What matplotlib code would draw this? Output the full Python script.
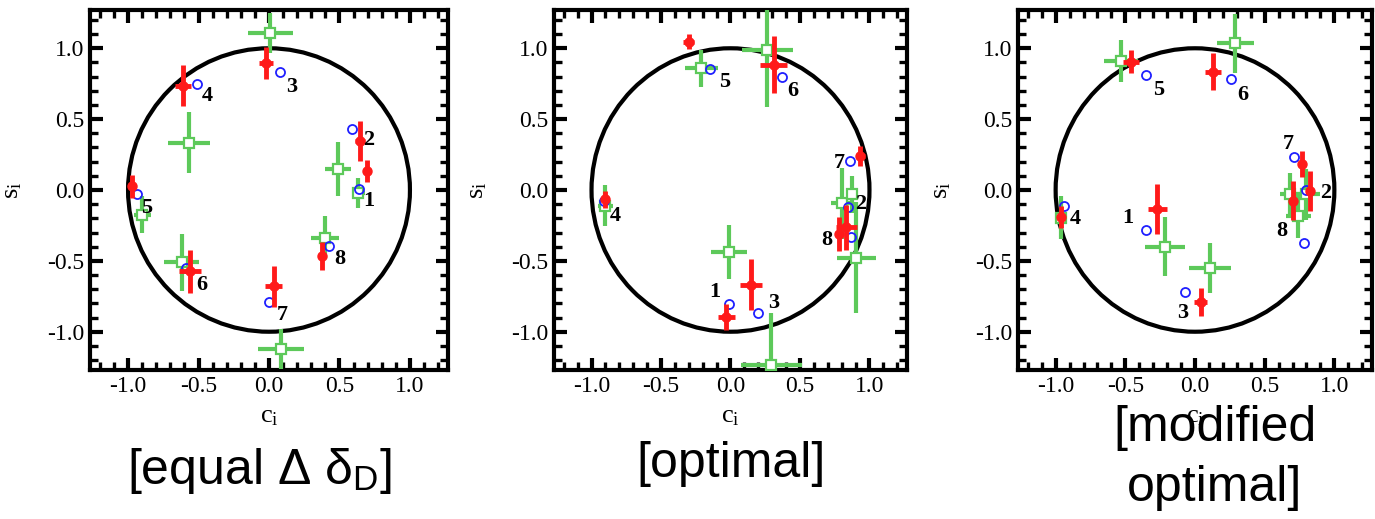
import numpy as np
import matplotlib
matplotlib.use("Agg")
import matplotlib.pyplot as plt
from matplotlib.patches import Circle
from matplotlib.ticker import MultipleLocator, FormatStrFormatter

plt.rcParams['font.family'] = ['Liberation Serif', 'DejaVu Serif']
plt.rcParams['axes.unicode_minus'] = False
plt.rcParams['mathtext.fontset'] = 'custom'
plt.rcParams['mathtext.rm'] = 'Liberation Serif'
plt.rcParams['mathtext.it'] = 'Liberation Serif:italic'
plt.rcParams['mathtext.sf'] = 'Liberation Sans'

# ------------------------------------------------------------
# data: (c_i, s_i) per bin, three binning schemes
# ------------------------------------------------------------
bins = ['1', '2', '3', '4', '5', '6', '7', '8']

# [equal delta]
eq_pred_c = [0.638, 0.59, 0.08, -0.51, -0.94, -0.59, 0.0, 0.425]
eq_pred_s = [0.005, 0.427, 0.835, 0.75, -0.03, -0.55, -0.79, -0.394]
eq_lab_c = [0.71, 0.71, 0.16, -0.44, -0.87, -0.48, 0.095, 0.50]
eq_lab_s = [-0.08, 0.35, 0.73, 0.66, -0.13, -0.67, -0.88, -0.49]
eq_red_c = [0.693, 0.645, -0.02, -0.61, -0.97, -0.56, 0.035, 0.378]
eq_red_s = [0.136, 0.347, 0.895, 0.735, 0.025, -0.575, -0.68, -0.465]
eq_red_ce = [0.02, 0.035, 0.05, 0.055, 0.02, 0.075, 0.06, 0.02]
eq_red_se = [0.077, 0.14, 0.115, 0.145, 0.08, 0.15, 0.145, 0.1]
eq_grn_c = [0.633, 0.49, 0.01, -0.57, -0.90, -0.62, 0.085, 0.40]
eq_grn_s = [-0.02, 0.146, 1.11, 0.335, -0.175, -0.51, -1.12, -0.336]
eq_grn_ce = [0.047, 0.095, 0.16, 0.15, 0.06, 0.125, 0.165, 0.1]
eq_grn_se = [0.105, 0.19, 0.14, 0.215, 0.13, 0.2, 0.14, 0.15]

# [optimal]
op_pred_c = [-0.01, 0.846, 0.195, -0.91, -0.15, 0.37, 0.863, 0.865]
op_pred_s = [-0.805, -0.118, -0.865, -0.08, 0.855, 0.795, 0.206, -0.33]
op_lab_c = [-0.11, 0.94, 0.31, -0.83, -0.04, 0.45, 0.78, 0.69]
op_lab_s = [-0.72, -0.10, -0.80, -0.18, 0.765, 0.695, 0.19, -0.35]
op_red_c = [-0.30, 0.31, 0.935, -0.90, 0.834, 0.78, 0.145, -0.03]
op_red_s = [1.047, 0.885, 0.24, -0.065, -0.263, -0.312, -0.67, -0.895]
op_red_ce = [0.04, 0.1, 0.03, 0.02, 0.075, 0.03, 0.08, 0.06]
op_red_se = [0.055, 0.2, 0.07, 0.06, 0.16, 0.12, 0.18, 0.09]
op_grn_c = [0.265, -0.21, -0.90, 0.80, 0.875, 0.905, -0.01, 0.295]
op_grn_s = [0.986, 0.86, -0.11, -0.094, -0.03, -0.477, -0.435, -1.235]
op_grn_ce = [0.185, 0.12, 0.055, 0.08, 0.04, 0.14, 0.13, 0.22]
op_grn_se = [0.4, 0.13, 0.145, 0.25, 0.13, 0.39, 0.19, 0.37]

# [modified optimal]
mo_pred_c = [-0.35, 0.80, -0.07, -0.94, -0.35, 0.255, 0.707, 0.785]
mo_pred_s = [-0.28, 0.0, -0.72, -0.11, 0.81, 0.785, 0.23, -0.375]
mo_lab_c = [-0.48, 0.935, -0.09, -0.86, -0.26, 0.34, 0.67, 0.62]
mo_lab_s = [-0.20, -0.02, -0.87, -0.205, 0.705, 0.67, 0.325, -0.29]
mo_red_c = [-0.46, 0.13, 0.768, 0.827, 0.70, -0.27, -0.965, 0.04]
mo_red_s = [0.905, 0.835, 0.183, -0.007, -0.077, -0.135, -0.19, -0.79]
mo_red_ce = [0.055, 0.055, 0.02, 0.03, 0.02, 0.07, 0.02, 0.045]
mo_red_se = [0.08, 0.13, 0.094, 0.14, 0.137, 0.175, 0.08, 0.1]
mo_grn_c = [-0.53, 0.29, -0.96, -0.215, 0.105, 0.68, 0.74, 0.80]
mo_grn_s = [0.91, 1.035, -0.195, -0.40, -0.55, -0.03, -0.18, -0.03]
mo_grn_ce = [0.12, 0.13, 0.04, 0.145, 0.15, 0.07, 0.09, 0.1]
mo_grn_se = [0.15, 0.21, 0.15, 0.21, 0.175, 0.15, 0.16, 0.18]

titles = ['[equal Δ δ$_{\\mathsf{D}}$]', '[optimal]', '[modified\noptimal]']

RED = '#ff1a1a'
GREEN = '#5dc95a'
BLUE = '#1f1fff'

# ------------------------------------------------------------
# figure
# ------------------------------------------------------------
fig = plt.figure(figsize=(13.75, 5.19), dpi=100)

W, H = 1375.0, 519.0
frames = [(90, 358), (554, 353), (1018, 354)]   # left px, width px
top_px, bot_px = 10, 370

panels = [
    (eq_pred_c, eq_pred_s, eq_lab_c, eq_lab_s, eq_red_c, eq_red_s, eq_red_ce, eq_red_se,
     eq_grn_c, eq_grn_s, eq_grn_ce, eq_grn_se),
    (op_pred_c, op_pred_s, op_lab_c, op_lab_s, op_red_c, op_red_s, op_red_ce, op_red_se,
     op_grn_c, op_grn_s, op_grn_ce, op_grn_se),
    (mo_pred_c, mo_pred_s, mo_lab_c, mo_lab_s, mo_red_c, mo_red_s, mo_red_ce, mo_red_se,
     mo_grn_c, mo_grn_s, mo_grn_ce, mo_grn_se),
]

for (left, width), p in zip(frames, panels):
    (pc, ps, lc, ls, rc, rs, rce, rse, gc, gs, gce, gse) = p

    ax = fig.add_axes([left / W, (H - bot_px) / H, width / W, (bot_px - top_px) / H])

    # unit circle
    ax.add_patch(Circle((0, 0), 1.0, fill=False, lw=3.0, color='black', zorder=2))

    # green measurements
    ax.errorbar(gc, gs, xerr=gce, yerr=gse, fmt='s', ms=6.5,
                mfc='white', mec=GREEN, mew=1.6, ecolor=GREEN,
                elinewidth=3.0, capsize=0, zorder=3)

    # predictions
    ax.plot(pc, ps, 'o', ms=6.5, mfc='none', mec=BLUE, mew=1.3, zorder=4)

    # red measurements
    ax.errorbar(rc, rs, xerr=rce, yerr=rse, fmt='o', ms=6.5,
                color=RED, ecolor=RED, elinewidth=3.5, capsize=0, zorder=5)

    for name, x, y in zip(bins, lc, ls):
        ax.text(x, y, name, ha='center', va='center', fontsize=16,
                fontweight='bold', zorder=6)

    ax.set_xlim(-1.27, 1.27)
    ax.set_ylim(-1.27, 1.27)

    ax.xaxis.set_major_locator(MultipleLocator(0.5))
    ax.yaxis.set_major_locator(MultipleLocator(0.5))
    ax.xaxis.set_minor_locator(MultipleLocator(0.1))
    ax.yaxis.set_minor_locator(MultipleLocator(0.1))
    ax.xaxis.set_major_formatter(FormatStrFormatter('%.1f'))
    ax.yaxis.set_major_formatter(FormatStrFormatter('%.1f'))

    ax.tick_params(which='both', direction='in', top=True, right=True,
                   labelsize=17, pad=4)
    ax.tick_params(which='major', length=9, width=3.0)
    ax.tick_params(which='minor', length=5.5, width=2.4)

    for sp in ax.spines.values():
        sp.set_linewidth(3.0)

    ax.set_xlabel(r'c$_{\mathrm{i}}$', fontsize=19)
    ax.set_ylabel(r's$_{\mathrm{i}}$', fontsize=19)
    ax.xaxis.set_label_coords(0.5, -0.1)
    ax.yaxis.set_label_coords(-0.185, 0.5)

# panel captions
fig.text(259 / W, 1 - 471 / H, titles[0], ha='center', va='center',
         fontsize=36, family=['Liberation Sans', 'DejaVu Sans'])
fig.text(731 / W, 1 - 464 / H, titles[1], ha='center', va='center',
         fontsize=36, family=['Liberation Sans', 'DejaVu Sans'])
fig.text(1215 / W, 1 - 405 / H, titles[2], ha='center', va='top',
         fontsize=36, linespacing=1.4, family=['Liberation Sans', 'DejaVu Sans'])

fig.savefig('out.png', dpi=100)
